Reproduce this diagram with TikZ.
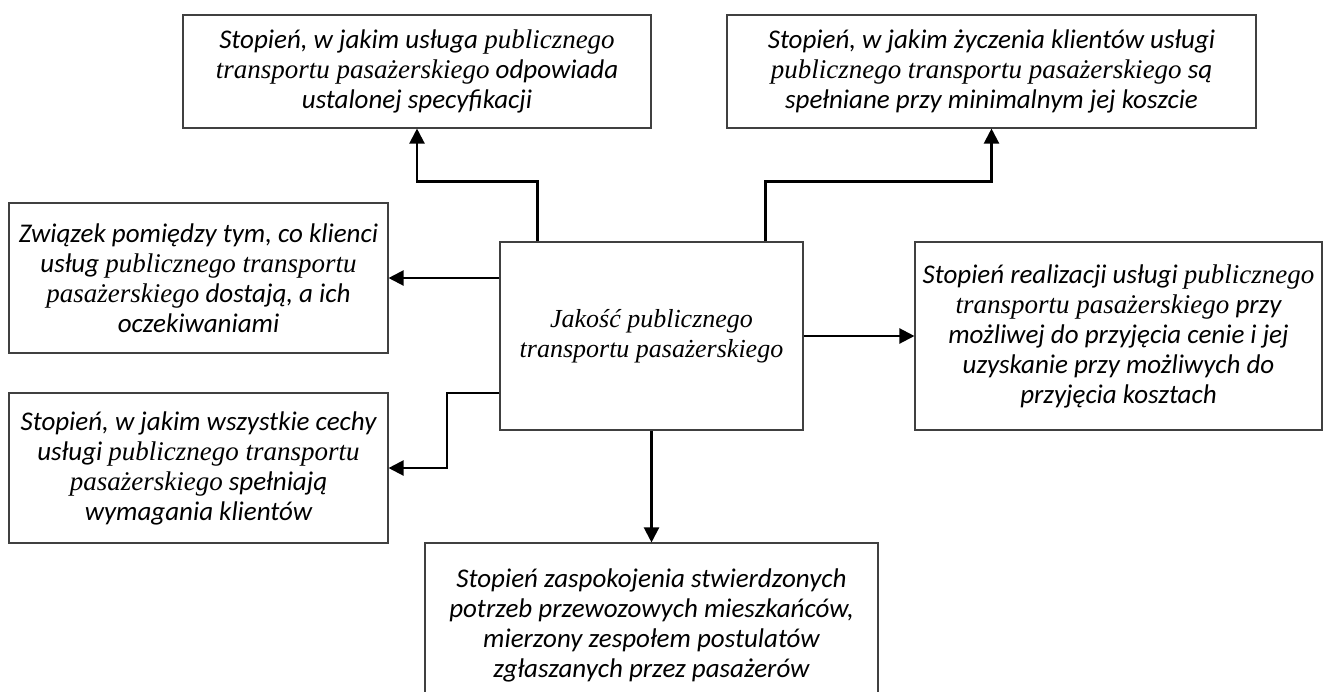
\documentclass[tikz,border=0pt]{standalone}
\usepackage{fontspec}
\setmainfont{Carlito}
\newfontfamily\tnr{Liberation Serif}
\usetikzlibrary{arrows.meta}
\newcommand\ptp[1]{{\tnr #1}}
\begin{document}
\begin{tikzpicture}[x=1pt, y=1pt,
	box/.style = {draw = black!75, line width = 1.1pt, align = center, inner sep = 0pt,
		font = \itshape\fontsize{27}{30}\selectfont},
	arr/.style = {line width = 2.2pt, -{Triangle[length=15pt, width=15pt]}}]
	\useasboundingbox (0,0) rectangle (1324,-691);
	\clip (0,0) rectangle (1324,-691);
	% central node
	\node[box, minimum width = 303pt, minimum height = 188pt, font = \tnr\itshape\fontsize{26}{30}\selectfont] (jakosc) at (651.5,-336)
		{Jakość publicznego\\ transportu pasażerskiego};
	% definitions round it
	\node[box, minimum width = 468pt, minimum height = 113pt] (specyfikacja) at (417,-71.5)
		{Stopień, w jakim usługa \ptp{publicznego}\\ \ptp{transportu pasażerskiego} odpowiada\\ ustalonej specyfikacji};
	\node[box, minimum width = 529pt, minimum height = 113pt] (zyczenia) at (991.5,-71.5)
		{Stopień, w jakim życzenia klientów usługi\\ \ptp{publicznego transportu pasażerskiego} są\\ spełniane przy minimalnym jej koszcie};
	\node[box, minimum width = 379pt, minimum height = 150pt] (zwiazek) at (198.5,-278)
		{Związek pomiędzy tym, co klienci\\ usług \ptp{publicznego transportu}\\ \ptp{pasażerskiego} dostają, a ich\\ oczekiwaniami};
	\node[box, minimum width = 379pt, minimum height = 150pt] (cechy) at (198.5,-468)
		{Stopień, w jakim wszystkie cechy\\ usługi \ptp{publicznego transportu}\\ \ptp{pasażerskiego} spełniają\\ wymagania klientów};
	\node[box, minimum width = 407pt, minimum height = 188pt] (realizacja) at (1118.5,-336)
		{Stopień realizacji usługi \ptp{publicznego}\\ \ptp{transportu pasażerskiego} przy\\ możliwej do przyjęcia cenie i jej\\ uzyskanie przy możliwych do\\ przyjęcia kosztach};
	\node[box, minimum width = 453pt, minimum height = 164pt] (potrzeby) at (651.5,-625)
		{Stopień zaspokojenia stwierdzonych\\ potrzeb przewozowych mieszkańców,\\ mierzony zespołem postulatów\\ zgłaszanych przez pasażerów};
	\coordinate (bend) at (447,-468);
	% connectors
	\draw[arr] ([xshift=38pt]jakosc.north west) -- ++(0,60) -| (specyfikacja.south);
	\draw[arr] ([xshift=-38pt]jakosc.north east) -- ++(0,60) -| (zyczenia.south);
	\draw[arr] (jakosc.west |- zwiazek.east) -- (zwiazek.east);
	\draw[arr] ([yshift=-57pt]jakosc.west) -| (bend) -- (cechy.east);
	\draw[arr] (jakosc.east) -- (realizacja.west);
	\draw[arr] (jakosc.south) -- (potrzeby.north);
\end{tikzpicture}
\end{document}
